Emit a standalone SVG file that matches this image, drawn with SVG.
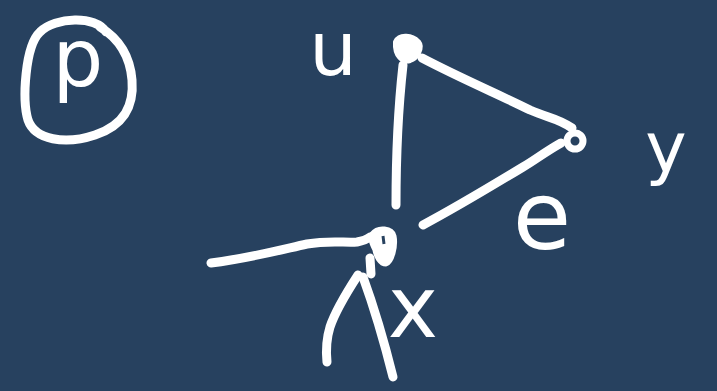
<svg xmlns="http://www.w3.org/2000/svg" width="717" height="391" viewBox="0 0 717 391">
<style>
.ink{fill:none;stroke:#ffffff;stroke-width:9;stroke-linecap:round;stroke-linejoin:round}
.lbl{fill:#ffffff;font-family:"DejaVu Sans",sans-serif;text-anchor:middle}
</style>
<rect width="717" height="391" fill="#27415f"/>
<g id="title">
<path class="ink" d="M106,32 C96,15 55,17 40,32 C25,46 22,100 28,120 C35,140 65,145 95,135 C125,125 134,105 132,80 C130,55 118,38 100,27"/>
<text class="lbl" x="78" y="86" font-size="80">p</text>
</g>
<g id="connectors">
<path class="ink" d="M403,65 C398,110 396,150 396,205"/>
<path class="ink" d="M422,58 C460,78 500,95 530,110 C548,118 558,118 572,128"/>
<path class="ink" d="M561,143 C545,152 535,160 523,167 C490,187 455,208 423,225"/>
<path class="ink" d="M211,263 C250,258 280,250 307,244 C330,240 345,243 357,242 C362,241 366,240 370,237"/>
<path class="ink" d="M358,275 C345,295 335,312 330,327 C326,340 326,352 327,362"/>
<path class="ink" d="M363,277 C375,310 385,345 393,377"/>
<path class="ink" d="M370,258 L371,274"/>
</g>
<g id="node-u">
<path d="M396,42 C400,34 412,36 418,42 C423,48 416,58 410,60 C403,62 395,56 396,42 Z" fill="#ffffff" stroke="#ffffff" stroke-width="6" stroke-linejoin="round"/>
<text class="lbl" x="333" y="75" font-size="75">u</text>
</g>
<g id="node-y">
<circle cx="575" cy="141" r="8" fill="none" stroke="#ffffff" stroke-width="7"/>
<text class="lbl" x="666" y="172" font-size="70">y</text>
</g>
<g id="node-x">
<path d="M372,234 C378,226 392,228 394,236 C396,246 392,262 386,264 C380,264 376,256 375,250 C372,244 370,240 372,234 Z" fill="#ffffff" stroke="#ffffff" stroke-width="5" stroke-linejoin="round"/>
<path d="M383,236 L384,244" stroke="#27415f" stroke-width="3"/>
<text class="lbl" x="413" y="337" font-size="85">x</text>
</g>
<g id="edge-label-e">
<text class="lbl" x="542" y="249" font-size="95">e</text>
</g>
</svg>
